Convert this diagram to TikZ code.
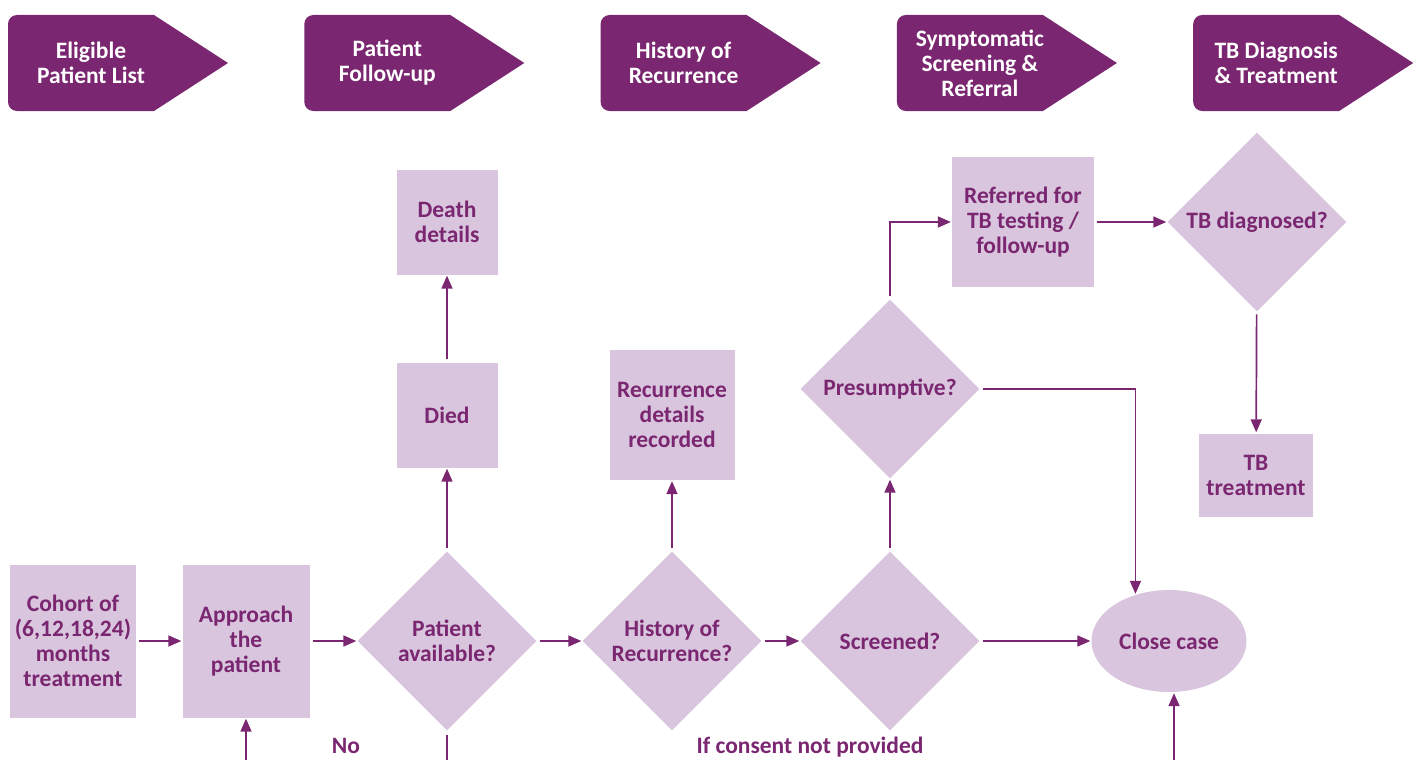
\documentclass[tikz,border=0pt]{standalone}
\usepackage{fontspec}
\setmainfont{Carlito}
\usetikzlibrary{shapes,arrows.meta}
\definecolor{plum}{RGB}{122,38,112}
\definecolor{lilac}{RGB}{217,198,222}

\begin{document}
\begin{tikzpicture}[x=1pt,y=-1pt,
  lbl/.style={font=\bfseries\fontsize{23.5}{25}\selectfont, text=plum, align=center},
  box/.style={lbl, fill=lilac, inner sep=0pt},
  dia/.style={lbl, diamond, fill=lilac, inner sep=0pt, minimum width=179pt, minimum height=179pt},
  arr/.style={draw=plum, line width=1.7pt, -{Triangle[length=13pt,width=11pt]}, shorten <=3pt, shorten >=1pt},
  ln/.style={draw=plum, line width=1.7pt, shorten <=4pt}]
\useasboundingbox (0,0) rectangle (1419,760);
\clip (0,0) rectangle (1419,760);
% header
\foreach \i/\txt in {0/{Eligible\\Patient List},1/{Patient\\Follow-up},2/{History of\\Recurrence},3/{Symptomatic\\Screening \&\\Referral},4/{TB Diagnosis\\\& Treatment}}{
  \pgfmathsetmacro{\xl}{8+296.3*\i}
  \fill[plum] (\xl+220,63) -- (\xl+146,111) [rounded corners=9pt] -- (\xl,111) -- (\xl,15) [sharp corners] -- (\xl+146,15) -- cycle;
  \node[lbl, text=white] (head\i) at (\xl+83,63) {\txt};
}
% main row
\node[box, minimum width=126pt, minimum height=153pt] (cohort) at (73,641) {Cohort of\\(6,12,18,24)\\months\\treatment};
\node[box, minimum width=127pt, minimum height=153pt] (appr) at (246,641) {Approach\\the\\patient};
\node[dia] (avail) at (447,641) {Patient\\available?};
\node[dia] (hist) at (672,641) {History of\\Recurrence?};
\node[dia] (scr) at (890,641) {Screened?};
\node[lbl, ellipse, fill=lilac, inner sep=0pt, minimum width=155pt, minimum height=102pt] (close) at (1169,641) {Close case};
% upper part
\node[box, minimum width=101pt, minimum height=105pt] (died) at (447,415) {Died};
\node[box, minimum width=101pt, minimum height=105pt] (death) at (447,222) {Death\\details};
\node[box, minimum width=125pt, minimum height=130pt] (recdet) at (672,415) {Recurrence\\details\\recorded};
\node[dia] (pres) at (890,389) {Presumptive?};
\node[box, minimum width=142pt, minimum height=130pt] (ref) at (1023,222) {Referred for\\TB testing /\\follow-up};
\node[dia] (tbdx) at (1257,222) {TB diagnosed?};
\node[box, minimum width=114pt, minimum height=83pt] (tbtx) at (1256,475) {TB\\treatment};
% labels near the lower edge
\node[lbl, anchor=base] (no) at (346,753) {No};
\node[lbl, anchor=base] (consent) at (810,753) {If consent not provided};
\coordinate (abot) at (246,775);
\coordinate (vbot) at (447,775);
\coordinate (cbot) at (1174,775);
% connectors
\draw[arr] (cohort) -- (appr);
\draw[arr] (appr) -- (avail);
\draw[arr] (avail) -- (hist);
\draw[arr] (hist) -- (scr);
\draw[arr] (scr) -- (close);
\draw[arr] (avail) -- (died);
\draw[arr] (died) -- (death);
\draw[arr] (hist) -- (recdet);
\draw[arr] (scr) -- (pres);
\draw[arr] (pres.north) |- (ref);
\draw[arr] (ref) -- (tbdx);
\draw[arr] (tbdx) -- (tbtx);
\draw[arr] (pres.east) -| (close.126);
\draw[arr] (abot) -- (appr);
\draw[ln] (avail) -- (vbot);
\draw[arr] (cbot) -- (cbot |- close.south);
\end{tikzpicture}
\end{document}
